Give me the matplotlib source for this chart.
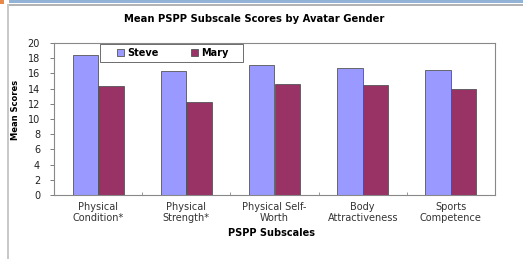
import matplotlib
matplotlib.use("Agg")
import matplotlib.pyplot as plt
import numpy as np
from matplotlib.patches import Rectangle

categories = ["Physical\nCondition*", "Physical\nStrength*", "Physical Self-\nWorth",
              "Body\nAttractiveness", "Sports\nCompetence"]
steve = [18.4, 16.3, 17.1, 16.7, 16.4]
mary = [14.3, 12.2, 14.6, 14.5, 13.9]
yticks = [0, 2, 4, 6, 8, 10, 12, 14, 16, 18, 20]

plt.rcParams['font.family'] = ['DejaVu Sans']

W, H = 523, 259
fig = plt.figure(figsize=(W / 100, H / 100), dpi=100)

def fx(px):
    return px / W

def fy(py):
    return 1 - py / H

# slide decorations
fig.add_artist(Rectangle((fx(0), fy(4)), fx(4), 4 / H, color='#E8894A', transform=fig.transFigure, lw=0))
fig.add_artist(Rectangle((fx(9), fy(3)), 1 - fx(9), 3 / H, color='#93B3D6', transform=fig.transFigure, lw=0))
fig.add_artist(Rectangle((fx(7), fy(6)), 1 - fx(7), 2 / H, color='#B4B4B4', transform=fig.transFigure, lw=0))
fig.add_artist(Rectangle((fx(7), 0), 2 / W, fy(4), color='#C8C8C8', transform=fig.transFigure, lw=0))

L, R, T, B = 54, 495, 43, 195
ax = fig.add_axes([fx(L), fy(B), fx(R - L), (B - T) / H])

x = np.arange(len(categories))
w = 0.29
ax.bar(x - w / 2, steve, w, color='#9999FF', edgecolor='#555555', linewidth=0.6, label='Steve')
ax.bar(x + w / 2, mary, w, color='#993366', edgecolor='#555555', linewidth=0.6, label='Mary')

ax.set_xlim(-0.5, len(categories) - 0.5)
ax.set_ylim(0, 20)
ax.set_yticks(yticks)
ax.set_yticklabels([str(v) for v in yticks], fontsize=7, color='#222222')
ax.set_xticks(x)
ax.set_xticklabels(categories, fontsize=7, color='#333333', linespacing=1.1)
ax.tick_params(axis='x', length=0, pad=5)
ax.set_xticks(np.arange(0.5, len(categories) - 0.5), minor=True)
ax.tick_params(axis='x', which='minor', length=2, direction='in', color='#888888')
ax.tick_params(axis='y', length=3, direction='out', color='#666666', pad=7, width=0.6)
for s in ax.spines.values():
    s.set_color('#888888')
    s.set_linewidth(0.8)

fig.text(fx(271), fy(233), "PSPP Subscales", fontsize=7, fontweight='bold', ha='center', va='center')
fig.text(fx(16), fy(110), "Mean Scores", rotation=90, fontsize=6, fontweight='bold',
         ha='center', va='center')
fig.text(fx(254), fy(19), "Mean PSPP Subscale Scores by Avatar Gender", fontsize=7.2,
         fontweight='bold', ha='center', va='center')

# legend frame (wide box, as in the reference)
fig.add_artist(Rectangle((fx(100), fy(62)), (243 - 100) / W, 18 / H, transform=fig.transFigure,
                         facecolor='white', edgecolor='#555555', lw=0.6, zorder=4))
leg = fig.legend(*ax.get_legend_handles_labels(), loc='center left',
                 bbox_to_anchor=(fx(117), fy(53)), ncol=2,
                 fontsize=7, frameon=False, handlelength=0.75, handleheight=0.75,
                 handletextpad=0.3, columnspacing=3.3, borderpad=0, borderaxespad=0)
leg.set_zorder(5)
for t in leg.get_texts():
    t.set_fontweight('bold')

fig.savefig("out.png", dpi=100)
